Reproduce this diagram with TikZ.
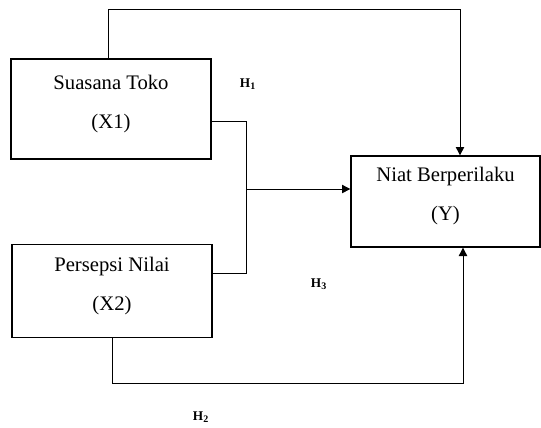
\documentclass[tikz,border=0pt]{standalone}
\usepackage{fontspec}
\setmainfont{Liberation Serif}
\usetikzlibrary{arrows.meta, positioning, calc}
\tikzset{%
  box/.style={draw, line width=0.8pt, rectangle, align=center,
    minimum width=120pt, minimum height=56pt, inner sep=0pt,
    font=\fontsize{12.4}{23.4}\selectfont, text depth=9pt},
  edge/.style={line width=0.6pt},
  move/.style={edge, -{Triangle[length=5pt, width=5pt]}},
  hyp/.style={font=\fontsize{8}{9}\selectfont\bfseries, inner sep=0pt}
}
\begin{document}
\begin{tikzpicture}[x=0.6pt, y=-0.6pt]
  \useasboundingbox (0,0) rectangle (541,427);

  \node[box, minimum height=60pt] (x1) at (111,109) {Suasana Toko\\(X1)};
  \node[box] (x2) at (112,291) {Persepsi Nilai\\(X2)};
  \node[box, minimum width=113.4pt, minimum height=54.6pt] (y) at (445.5,201.5) {Niat Berperilaku\\(Y)};

  \coordinate (top) at (460,9);
  \coordinate (bot) at (463,383);
  \coordinate (j) at (246,189);

  % direct paths
  \draw[move] (x1.north -| 108,0) |- (top) -- (top |- y.north);
  \draw[move] (x2.south) |- (bot) -- (bot |- y.south);

  % joint path
  \draw[edge] (x1.east |- 0,121) -| (j);
  \draw[edge] (x2.east |- 0,273) -| (j);
  \draw[move] (j) -- (j -| y.west);

  \node[hyp] (h1) at (248,84) {H\textsubscript{1}};
  \node[hyp] (h3) at (319,284) {H\textsubscript{3}};
  \node[hyp] (h2) at (201,417) {H\textsubscript{2}};
\end{tikzpicture}
\end{document}
